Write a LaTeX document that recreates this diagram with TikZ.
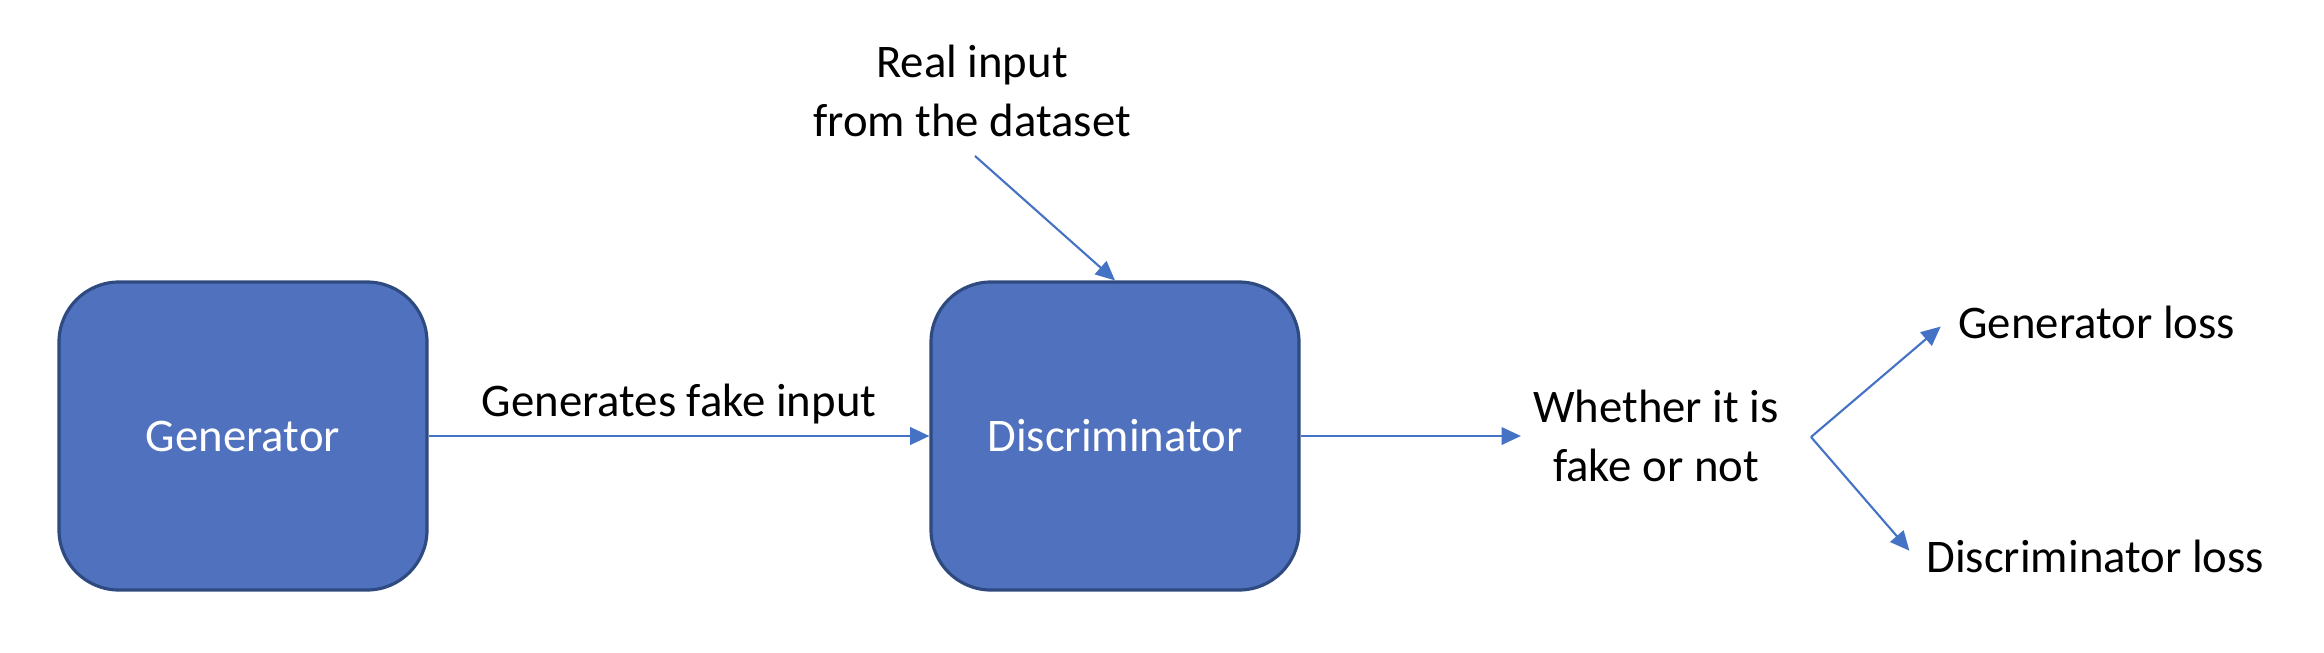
\documentclass[tikz,border=0pt]{standalone}
\usepackage{fontspec}
\setmainfont{Carlito}
\usepackage{tikz}
\usetikzlibrary{arrows.meta,positioning}
\definecolor{face}{HTML}{5072BE}
\definecolor{edge}{HTML}{2F4A80}
\definecolor{wire}{HTML}{4472C4}

\begin{document}
\begin{tikzpicture}[x=1cm,y=1cm,
  block/.style={draw=edge,fill=face,line width=.9pt,rounded corners=.6cm,minimum width=3.68cm,minimum height=3.08cm,text=white,font=\fontsize{13.3}{16.8}\selectfont},
  lbl/.style={align=center,font=\fontsize{13.3}{16.8}\selectfont},
  flow/.style={draw=wire,line width=.6pt,-{Triangle[length=5.5pt,width=5pt]}}]
  \useasboundingbox (0,0) rectangle (23.24,-6.52);
  \node[block] (gen) at (2.43,-4.36) {Generator};
  \node[block] (disc) at (11.15,-4.36) {Discriminator};
  \node[lbl] (real) at (9.72,-0.91) {Real input\\from the dataset};
  \node[lbl] (out) at (16.56,-4.36) {Whether it is\\fake or not};
  \node[lbl,anchor=west] (genloss) at (19.46,-3.22) {Generator loss};
  \node[lbl,anchor=west] (discloss) at (19.14,-5.56) {Discriminator loss};
  \coordinate (realtail) at (9.75,-1.56);
  \coordinate (fork) at (18.11,-4.37);
  \draw[flow] (gen.east) -- node[lbl,above,inner sep=3pt] (fakein) {Generates fake input} (disc.west);
  \draw[flow] (realtail) -- (disc.north);
  \draw[flow] (disc.east) -- (out.west);
  \draw[flow,shorten >=2pt] (fork) -- (genloss.west);
  \draw[flow,shorten >=2pt] (fork) -- (discloss.west);
\end{tikzpicture}
\end{document}
